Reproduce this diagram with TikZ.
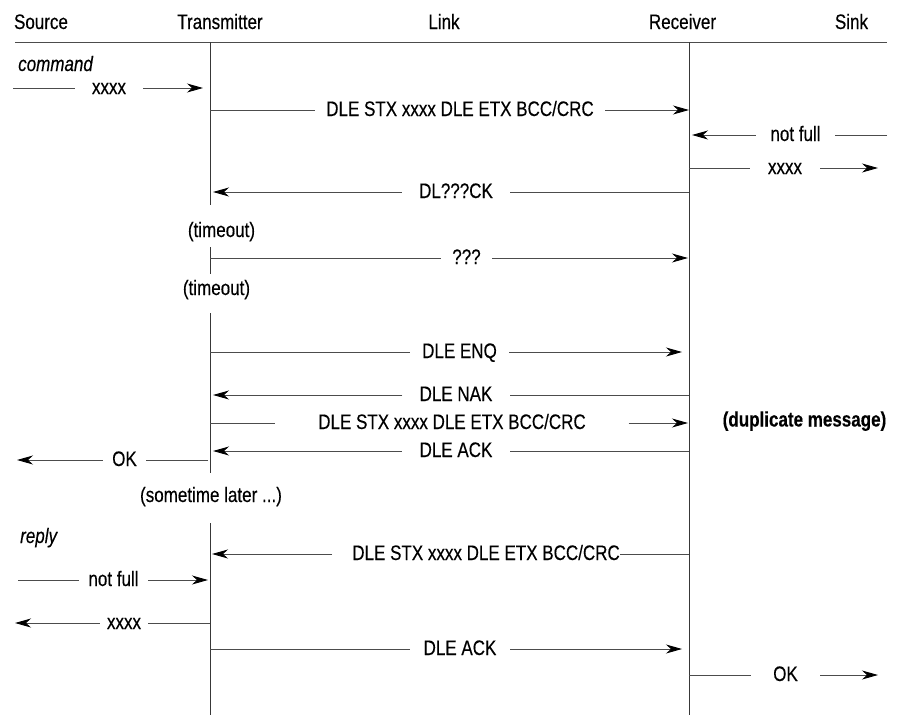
\documentclass[tikz,border=0pt]{standalone}
\usepackage{fontspec}
\setmainfont{Liberation Sans}[FakeStretch=0.81,FakeBold=0.3]
\usetikzlibrary{arrows.meta}
\begin{document}
\begin{tikzpicture}[x=1pt,y=-1pt,
  every node/.style={font=\fontsize{21}{24}\selectfont, text=black},
  msg/.style={inner ysep=0pt, inner xsep=0pt, text height=12pt, text depth=0pt},
  ln/.style={draw=black!70, line width=0.9pt},
  arr/.style={ln, -{Stealth[length=16pt,width=9pt,inset=5pt,black]}},
  life/.style={draw=black!78, line width=0.9pt}]
\useasboundingbox (0,0) rectangle (900,715);

% headers
\node[msg] (hSrc)  at (41,23)  {Source};
\node[msg] (hTx)   at (220,23) {Transmitter};
\node[msg] (hLink) at (444,23) {Link};
\node[msg] (hRx)   at (682.5,23) {Receiver};
\node[msg] (hSink) at (851.5,23) {Sink};
\coordinate (H0) at (15,42);
\coordinate (H1) at (887,42);
\draw[ln] (H0) -- (H1);

% lifelines
\coordinate (T) at (210,42);
\coordinate (R) at (689,42);
\coordinate (Ta) at (210,205);
\coordinate (Tb) at (210,247);
\coordinate (Tc) at (210,274);
\coordinate (Td) at (210,313);
\coordinate (Te) at (210,473);
\coordinate (Tf) at (210,523);
\coordinate (Tg) at (210,715);
\coordinate (Rz) at (689,715);
\draw[life] (T) -- (Ta);
\draw[life] (Tb) -- (Tc);
\draw[life] (Td) -- (Te);
\draw[life] (Tf) -- (Tg);
\draw[life] (R) -- (Rz);

% command
\node[msg, anchor=west] (cmd) at (18,65) {\itshape command};

% 1
\node[msg, minimum width=68pt] (m1) at (109,88) {xxxx};
\coordinate (m1s) at (13,88);
\draw[ln] (m1s) -- (m1.west);
\draw[arr] (m1.east) -- ([xshift=-7pt]T |- m1);

% 2
\node[msg, minimum width=290pt] (m2) at (460,110) {DLE STX xxxx DLE ETX BCC/CRC};
\draw[ln] (T |- m2) -- (m2.west);
\draw[arr] (m2.east) -- (R |- m2);

% 3
\node[msg, minimum width=79pt] (m3) at (795.5,135) {not full};
\coordinate (m3s) at (887,135);
\draw[ln] (m3s) -- (m3.east);
\draw[arr] (m3.west) -- ([xshift=3pt]R |- m3);

% 4
\node[msg, minimum width=70pt] (m4) at (785,168) {xxxx};
\coordinate (m4e) at (878,168);
\draw[ln] (R |- m4) -- (m4.west);
\draw[arr] (m4.east) -- (m4e);

% 5
\node[msg, minimum width=108pt] (m5) at (456,192) {DL???CK};
\draw[ln] (R |- m5) -- (m5.east);
\draw[arr] (m5.west) -- ([xshift=3pt]T |- m5);

\node[msg] (to1) at (221.5,231) {(timeout)};

% 6
\node[msg, minimum width=51pt] (m6) at (466.5,258) {???};
\draw[ln] (T |- m6) -- (m6.west);
\draw[arr] (m6.east) -- ([xshift=-1pt]R |- m6);

\node[msg] (to2) at (216.5,289) {(timeout)};

% 7
\node[msg, minimum width=99pt] (m7) at (459.5,352) {DLE ENQ};
\draw[ln] (T |- m7) -- (m7.west);
\draw[arr] (m7.east) -- ([xshift=-7pt]R |- m7);

% 8
\node[msg, minimum width=107pt] (m8) at (456,395) {DLE NAK};
\draw[ln] (R |- m8) -- (m8.east);
\draw[arr] (m8.west) -- ([xshift=3pt]T |- m8);

% 9
\node[msg, minimum width=353pt] (m9) at (452,423) {DLE STX xxxx DLE ETX BCC/CRC};
\draw[ln] (T |- m9) -- (m9.west);
\draw[arr] (m9.east) -- ([xshift=-1pt]R |- m9);

\node[msg, font=\fontsize{21}{24}\selectfont\bfseries] (dup) at (804.5,420.5) {(duplicate message)};

% 10
\node[msg, minimum width=108pt] (m10) at (456,451) {DLE ACK};
\draw[ln] (R |- m10) -- (m10.east);
\draw[arr] (m10.west) -- ([xshift=3pt]T |- m10);

% 11
\node[msg, minimum width=43pt] (m11) at (124.5,460) {OK};
\coordinate (m11e) at (17,460);
\draw[ln] ([xshift=-2pt]T |- m11) -- (m11.east);
\draw[arr] (m11.west) -- (m11e);

\node[msg] (later) at (211,496) {(sometime later ...)};

% reply
\node[msg, anchor=west] (rep) at (20,537) {\itshape reply};

% 12
\node[msg, anchor=east] (m12) at (620,554) {DLE STX xxxx DLE ETX BCC/CRC};
\draw[ln] (R |- m12) -- (m12.east);
\draw[arr] ([xshift=-20pt]m12.west) -- ([xshift=2pt]T |- m12);

% 13
\node[msg, minimum width=69pt] (m13) at (113.5,580) {not full};
\coordinate (m13s) at (18,580);
\draw[ln] (m13s) -- (m13.west);
\draw[arr] (m13.east) -- ([xshift=-2pt]T |- m13);

% 14
\node[msg, minimum width=48pt] (m14) at (124,623) {xxxx};
\coordinate (m14e) at (15,623);
\draw[ln] (T |- m14) -- (m14.east);
\draw[arr] (m14.west) -- (m14e);

% 15
\node[msg, minimum width=100pt] (m15) at (460,649) {DLE ACK};
\draw[ln] (T |- m15) -- (m15.west);
\draw[arr] (m15.east) -- ([xshift=-7pt]R |- m15);

% 16
\node[msg, minimum width=69pt] (m16) at (785.5,675) {OK};
\coordinate (m16e) at (878,675);
\draw[ln] (R |- m16) -- (m16.west);
\draw[arr] (m16.east) -- (m16e);
\end{tikzpicture}
\end{document}
